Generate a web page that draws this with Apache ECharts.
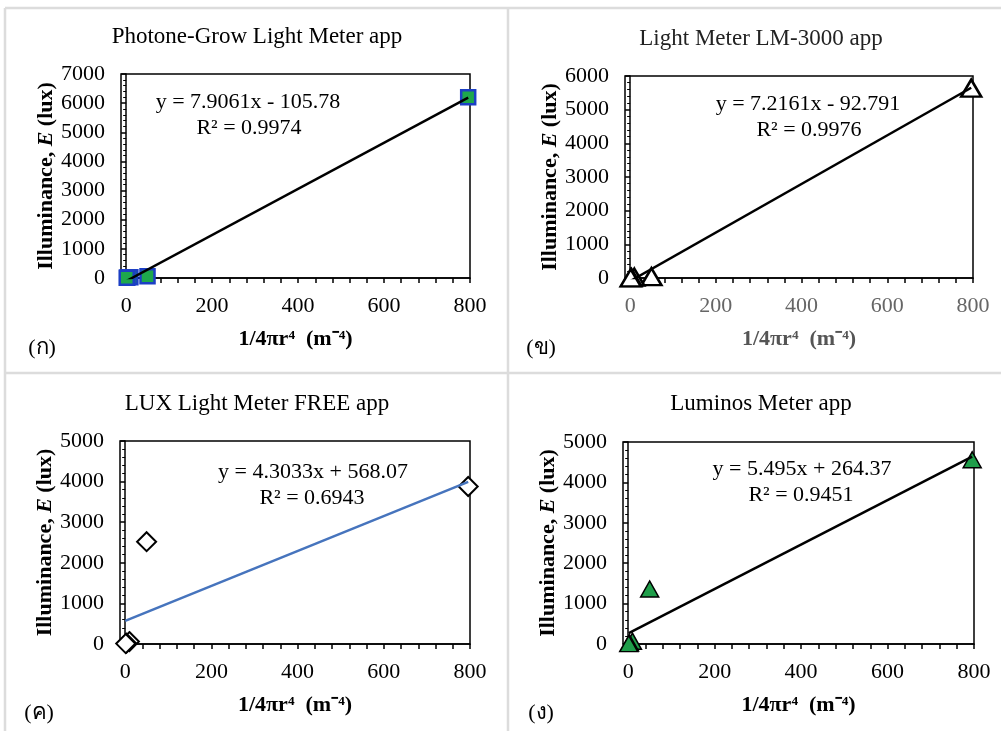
<!DOCTYPE html>
<html>
<head>
<meta charset="utf-8">
<script src="https://cdn.jsdelivr.net/npm/echarts@6/dist/echarts.min.js"></script>
<style>
html,body{margin:0;padding:0;background:#fff;}
#c{width:1001px;height:731px;}
</style>
</head>
<body>
<div id="c"></div>
<script>
// ---- data ----
const titles = ['Photone-Grow Light Meter app', 'Light Meter LM-3000 app', 'LUX Light Meter FREE app', 'Luminos Meter app'];
const panelLabels = ['(ก)', '(ข)', '(ค)', '(ง)'];
const equations = ['y = 7.9061x - 105.78', 'y = 7.2161x - 92.791', 'y = 4.3033x + 568.07', 'y = 5.495x + 264.37'];
const rSquared = ['R² = 0.9974', 'R² = 0.9976', 'R² = 0.6943', 'R² = 0.9451'];
const xValues = [795.8, 49.7, 9.8, 3.1, 1.3];
const photoneY = [6200, 60, 30, 15, 8];
const lm3000Y = [5640, 40, 25, 12, 6];
const luxFreeY = [3880, 2520, 60, 20, 10];
const luminosY = [4560, 1360, 70, 25, 10];
const trendX = [1.3, 795.8];
const trendX3 = [0, 795.8];
const photoneTrend = [-95.5, 6186];
const lm3000Trend = [-83.4, 5650];
const luxFreeTrend = [568.1, 3992.6];
const luminosTrend = [271.5, 4637];
const yMax = [7000, 6000, 5000, 5000];
const xTickLabels = [0, 200, 400, 600, 800];
const xMinorTicks = [0, 40, 80, 120, 160, 200, 240, 280, 320, 360, 400, 440, 480, 520, 560, 600, 640, 680, 720, 760, 800];

const FONT = "'Liberation Serif','Times New Roman',serif";
const pairs = (xs, ys) => xs.map((x, i) => [x, ys[i]]);

const grids = [
  {left: 121, top: 74, width: 349, height: 204},
  {left: 625, top: 76, width: 348, height: 202},
  {left: 120, top: 441, width: 350, height: 203},
  {left: 623, top: 442, width: 351, height: 202}
];
const xLabelColor = ['#000', '#666', '#000', '#000'];
const xNameColor = ['#000', '#555', '#000', '#000'];

const option = {
  animation: false,
  backgroundColor: '#fff',
  grid: grids.map(g => Object.assign({show: true, borderColor: '#000', borderWidth: 1.5, backgroundColor: 'transparent'}, g)),
  xAxis: grids.map((g, i) => ({
    type: 'value', gridIndex: i, min: -12, max: 800,
    name: '1/4πr⁴  (m⁻⁴)', nameLocation: 'middle', nameGap: 50,
    nameTextStyle: {fontFamily: FONT, fontSize: 22, fontWeight: 'bold', color: xNameColor[i]},
    axisLine: {show: true, lineStyle: {color: '#000', width: 1.5}},
    axisTick: {show: true, inside: false, length: 5, lineStyle: {color: '#000', width: 1.5}, customValues: xMinorTicks},
    axisLabel: {fontFamily: FONT, fontSize: 22, color: xLabelColor[i], margin: 17, customValues: xTickLabels},
    splitLine: {show: false}
  })),
  yAxis: grids.map((g, i) => ({
    type: 'value', gridIndex: i, min: 0, max: yMax[i], interval: 1000,
    name: '{b|Illuminance, }{i|E}{b| (lux)}', nameLocation: 'middle', nameGap: 64,
    nameTextStyle: {
      rich: {
        b: {fontFamily: FONT, fontSize: 22, fontWeight: 'bold', color: '#000'},
        i: {fontFamily: FONT, fontSize: 22, fontWeight: 'bold', fontStyle: 'italic', color: '#000'}
      }
    },
    axisLine: {show: true, onZero: true, lineStyle: {color: '#000', width: 1.5}},
    axisTick: {show: true, inside: false, length: 5, lineStyle: {color: '#000', width: 1.5}},
    minorTick: {show: true, splitNumber: 5, length: 3, lineStyle: {color: '#000', width: 1}},
    axisLabel: {fontFamily: FONT, fontSize: 22, color: '#000', margin: 16, formatter: v => String(v)},
    splitLine: {show: false}
  })),
  series: [
    {type: 'scatter', xAxisIndex: 0, yAxisIndex: 0, data: pairs(xValues, photoneY), symbol: 'rect', symbolSize: 14,
     itemStyle: {color: '#1ea84c', borderColor: '#1c3fc4', borderWidth: 2.5, opacity: 1}, z: 2},
    {type: 'line', xAxisIndex: 0, yAxisIndex: 0, data: pairs(trendX, photoneTrend), showSymbol: false, symbol: 'none',
     lineStyle: {color: '#000', width: 2.5}, z: 3},
    {type: 'scatter', xAxisIndex: 1, yAxisIndex: 1, data: pairs(xValues, lm3000Y), symbol: 'triangle', symbolSize: [20, 17],
     itemStyle: {color: '#fff', borderColor: '#000', borderWidth: 2.5, opacity: 1}, z: 2},
    {type: 'line', xAxisIndex: 1, yAxisIndex: 1, data: pairs(trendX, lm3000Trend), showSymbol: false, symbol: 'none',
     lineStyle: {color: '#000', width: 2.5}, z: 3},
    {type: 'scatter', xAxisIndex: 2, yAxisIndex: 2, data: pairs(xValues, luxFreeY), symbol: 'diamond', symbolSize: 19,
     itemStyle: {color: '#fff', borderColor: '#000', borderWidth: 2, opacity: 1}, z: 2},
    {type: 'line', xAxisIndex: 2, yAxisIndex: 2, data: pairs(trendX3, luxFreeTrend), showSymbol: false, symbol: 'none',
     lineStyle: {color: '#4674bd', width: 2.5}, z: 3},
    {type: 'scatter', xAxisIndex: 3, yAxisIndex: 3, data: pairs(xValues, luminosY), symbol: 'triangle', symbolSize: [18, 16],
     itemStyle: {color: '#1f9e4a', borderColor: '#000', borderWidth: 1.5, opacity: 1}, z: 2},
    {type: 'line', xAxisIndex: 3, yAxisIndex: 3, data: pairs(trendX, luminosTrend), showSymbol: false, symbol: 'none',
     lineStyle: {color: '#000', width: 2.5}, z: 3}
  ],
  graphic: []
};

// panel frames
const frameLines = [
  [5, 8, 1001, 8], [5, 8, 5, 731], [508, 8, 508, 731], [5, 373, 1001, 373]
];
frameLines.forEach(l => option.graphic.push({
  type: 'line', shape: {x1: l[0], y1: l[1], x2: l[2], y2: l[3]},
  style: {stroke: '#dcdcdc', lineWidth: 2.5}, silent: true, z: -10
}));

const titlePos = [[257, 37], [761, 39], [257, 404], [761, 404]];
const eqPos = [[248, 102], [808, 104], [313, 472], [802, 469]];
const r2Pos = [[249, 128], [809, 130], [312, 498], [801, 495]];
const labelPos = [[42, 348], [541, 348], [39, 713], [541, 713]];
const titleColor = ['#000', '#222', '#000', '#000'];

for (let i = 0; i < 4; i++) {
  option.graphic.push({type: 'text', x: titlePos[i][0], y: titlePos[i][1],
    style: {text: titles[i], font: '23px ' + FONT, fill: titleColor[i], align: 'center', verticalAlign: 'middle'}});
  option.graphic.push({type: 'text', x: eqPos[i][0], y: eqPos[i][1],
    style: {text: equations[i], font: '22px ' + FONT, fill: '#000', align: 'center', verticalAlign: 'middle'}});
  option.graphic.push({type: 'text', x: r2Pos[i][0], y: r2Pos[i][1],
    style: {text: rSquared[i], font: '22px ' + FONT, fill: '#000', align: 'center', verticalAlign: 'middle'}});
  option.graphic.push({type: 'text', x: labelPos[i][0], y: labelPos[i][1],
    style: {text: panelLabels[i], font: '22px ' + FONT, fill: '#000', align: 'center', verticalAlign: 'middle'}});
}

const chart = echarts.init(document.getElementById('c'), null, {renderer: 'canvas'});
chart.setOption(option);
</script>
</body>
</html>
